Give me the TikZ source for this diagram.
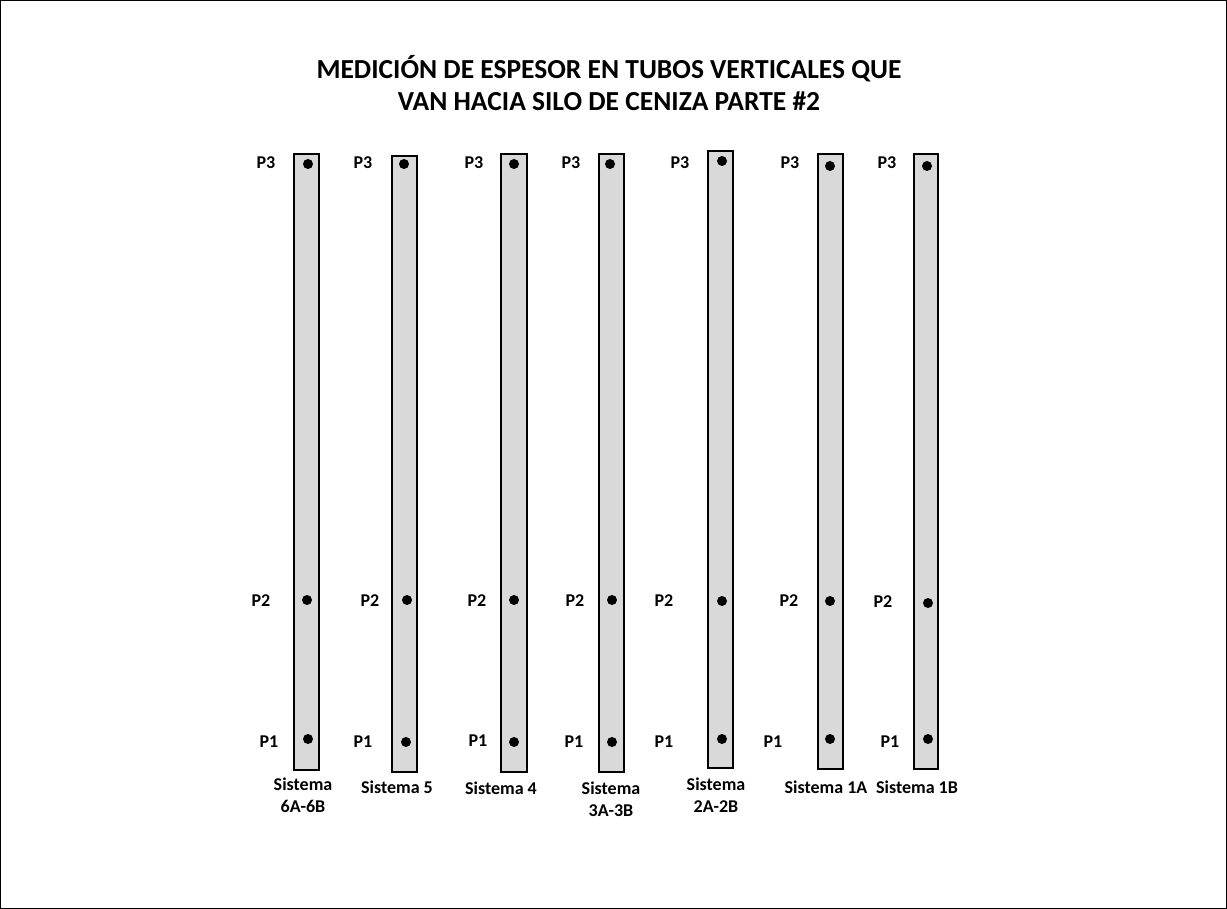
\documentclass[tikz,border=0pt]{standalone}
\usepackage{fontspec}
\setmainfont{Carlito}
\begin{document}
\begin{tikzpicture}[x=1pt,y=-1pt,
  tube/.style={draw=black,line width=2pt,fill=black!15},
  pt/.style={circle,fill=black,inner sep=0pt,minimum size=10pt},
  plabel/.style={font=\bfseries\fontsize{18}{20}\selectfont,inner sep=0pt},
  slabel/.style={font=\bfseries\fontsize{18}{22}\selectfont,align=center,inner sep=0pt},
  ttl/.style={font=\bfseries\fontsize{27.5}{32}\selectfont,align=center,inner sep=0pt}]
\draw[line width=1pt] (0.5,0.5) rectangle (1226.5,908.5);
\useasboundingbox (0,0) rectangle (1227,909);
\node[ttl] (title) at (609,83) {MEDICIÓN DE ESPESOR EN TUBOS VERTICALES QUE\\VAN HACIA SILO DE CENIZA PARTE \#2};
% tubes: x-left, x-right, top, bottom
\foreach \i/\xl/\xr/\yt/\yb/\dA/\dB/\dC/\yA/\yB/\yC in {
  1/294/319/154/770/308/307/308/164/600/739,
  2/392/417/156/772/404/407/406/164/600/742,
  3/501/527/154/772/514/514/514/164/600/742,
  4/599/624/154/772/610/612/612/164/600/742,
  5/708/733/151/768/722/722/722/161/601/739,
  6/818/843/154/769/830/830/830/166/601/739,
  7/914/938/154/769/927/928/928/166/603/739}{
  \draw[tube] (\xl,\yt) rectangle (\xr,\yb);
  \node[pt] (t\i p3) at (\dA,\yA) {};
  \node[pt] (t\i p2) at (\dB,\yB) {};
  \node[pt] (t\i p1) at (\dC,\yC) {};
}
\foreach \i/\x/\y in {1/266/163,2/363/163,3/474/163,4/571/163,5/680/163,6/790/163,7/887/163}
  \node[plabel] (l\i p3) at (\x,\y) {P3};
\foreach \i/\x/\y in {1/261/601,2/370/601,3/477/601,4/575/601,5/664/601,6/789/601,7/883/602}
  \node[plabel] (l\i p2) at (\x,\y) {P2};
\foreach \i/\x/\y in {1/269/742,2/363/742,3/478/741,4/574/742,5/664/742,6/773/742,7/890/742}
  \node[plabel] (l\i p1) at (\x,\y) {P1};
\node[slabel] (s1) at (303,795) {Sistema\\6A-6B};
\node[slabel] (s2) at (397,787) {Sistema 5};
\node[slabel] (s3) at (501,788) {Sistema 4};
\node[slabel] (s4) at (611,799) {Sistema\\3A-3B};
\node[slabel] (s5) at (716,795) {Sistema\\2A-2B};
\node[slabel] (s6) at (826,787) {Sistema 1A};
\node[slabel] (s7) at (917,787) {Sistema 1B};
\end{tikzpicture}
\end{document}
